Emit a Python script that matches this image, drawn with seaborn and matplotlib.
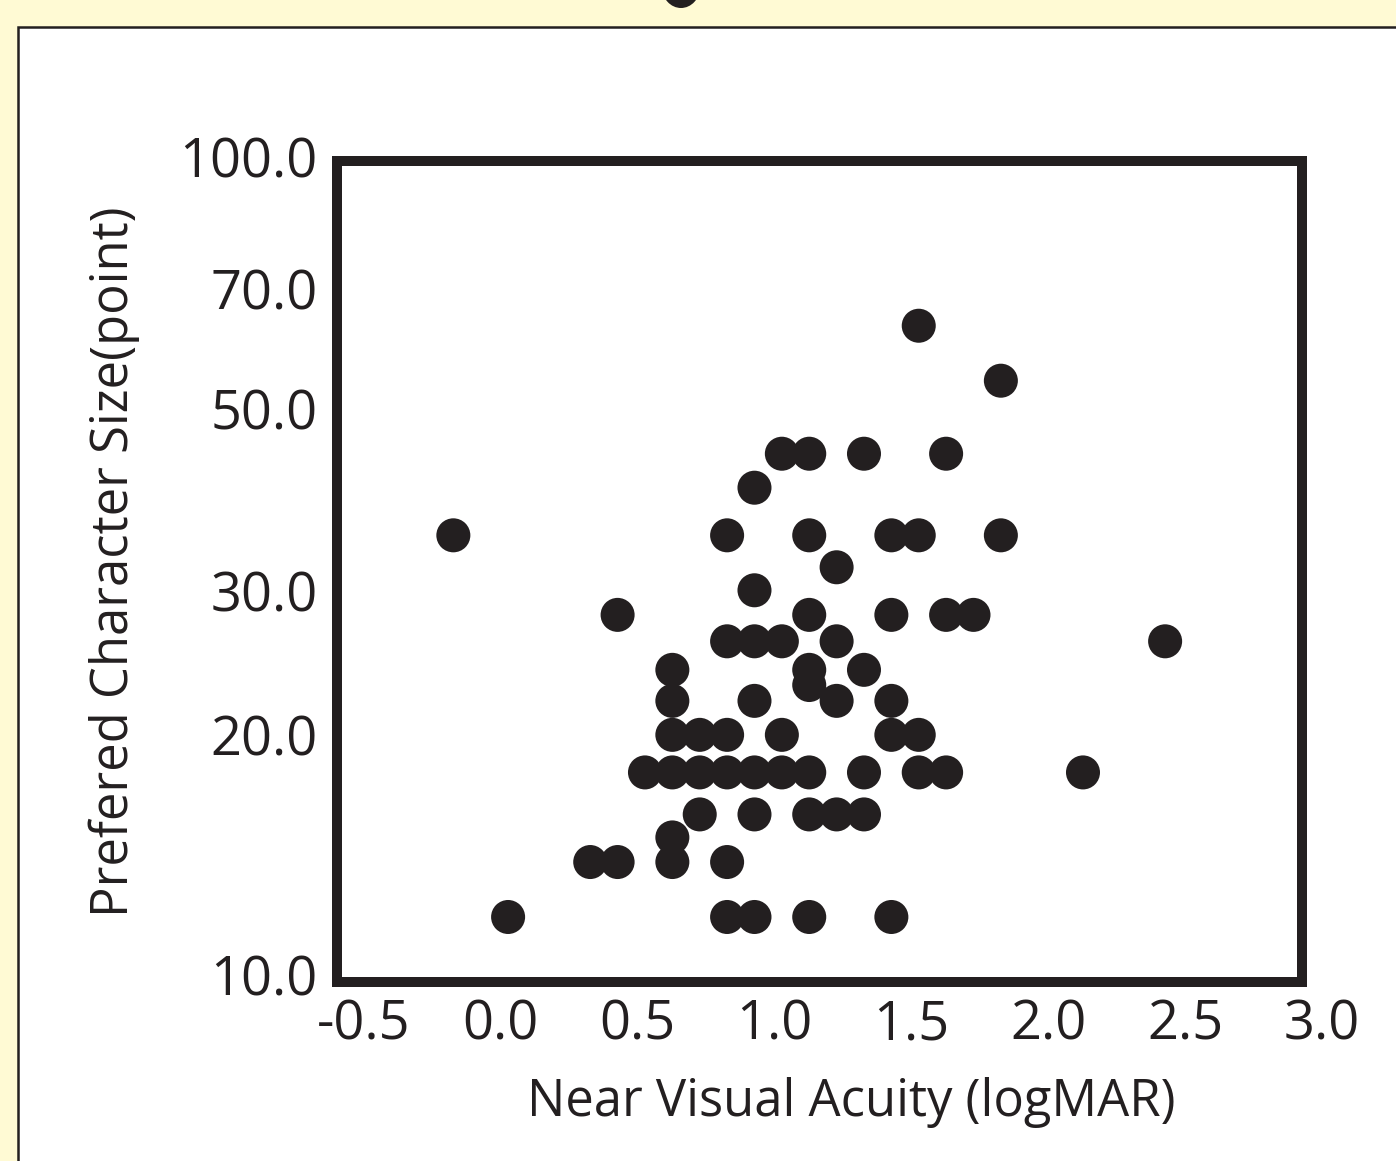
import pandas as pd
import numpy as np
import seaborn as sns
import matplotlib.pyplot as plt
from matplotlib.patches import Rectangle, Ellipse
from matplotlib.ticker import NullFormatter
from matplotlib.transforms import ScaledTranslation

# near visual acuity (logMAR) and preferred character size (point)
acuity = [0.1, 0.9, 1.0, 1.2, 1.5,
          0.4, 0.5, 0.7, 0.9,
          0.7,
          0.8, 1.0, 1.2, 1.3, 1.4,
          0.6, 0.7, 0.8, 0.9, 1.0, 1.1, 1.2, 1.4, 1.6, 1.7, 2.2,
          0.7, 0.8, 0.9, 1.1, 1.5, 1.6,
          0.7, 1.0, 1.3, 1.5,
          1.2,
          0.7, 1.2, 1.4,
          0.9, 1.0, 1.1, 1.3, 2.5,
          0.5, 1.2, 1.5, 1.7, 1.8,
          1.0,
          1.3,
          -0.1, 0.9, 1.2, 1.5, 1.6, 1.9,
          1.0,
          1.1, 1.2, 1.4, 1.7,
          1.9,
          1.6]
char_size = [12, 12, 12, 12, 12,
             14, 14, 14, 14,
             15,
             16, 16, 16, 16, 16,
             18, 18, 18, 18, 18, 18, 18, 18, 18, 18, 18,
             20, 20, 20, 20, 20, 20,
             22, 22, 22, 22,
             23,
             24, 24, 24,
             26, 26, 26, 26, 26,
             28, 28, 28, 28, 28,
             30,
             32,
             35, 35, 35, 35, 35, 35,
             40,
             44, 44, 44, 44,
             54,
             63]

x_ticks = [-0.5, 0.0, 0.5, 1.0, 1.5, 2.0, 2.5, 3.0]
y_ticks = [10, 20, 30, 50, 70, 100]
y_minor = [40, 60, 80, 90]

df = pd.DataFrame({"acuity": acuity, "size": char_size})

sns.set_style("white")
plt.rcParams['font.family'] = ['Open Sans', 'DejaVu Sans']
ink = '#231F20'

fig = plt.figure(figsize=(13.96, 11.61), dpi=100)
fig.patch.set_facecolor('#FFFAD4')

# white panel with thin border, running off the right and bottom edges
fig.add_artist(Rectangle((18/1396, -0.1), 1.2, 1.1 - 27/1161, transform=fig.transFigure,
                         facecolor='white', edgecolor=ink, lw=1.8, zorder=0))
# bottom of a clipped title glyph at the very top
fig.add_artist(Ellipse((681/1396, 1 + 13/1161), 38/1396, 42/1161, transform=fig.transFigure,
                       facecolor=ink, edgecolor='none'))

ax = fig.add_axes([337/1396, 1 - 982/1161, 965/1396, 821/1161])
ax.set_facecolor('white')
sns.scatterplot(data=df, x="acuity", y="size", ax=ax, s=600, color=ink,
                edgecolor='none', linewidth=0, zorder=3, clip_on=False)

ax.set_yscale('log')
ax.set_ylim(10, 100)
ax.set_xlim(-0.525, 2.995)

ax.set_xticks(x_ticks)
ax.set_xticklabels([f"{v:.1f}" for v in x_ticks])
ax.set_yticks(y_ticks)
ax.set_yticklabels([f"{v:.1f}" for v in y_ticks])
ax.set_yticks(y_minor, minor=True)
ax.yaxis.set_minor_formatter(NullFormatter())
ax.xaxis.set_minor_locator(plt.NullLocator())

ax.tick_params(axis='both', which='both', direction='in', length=7, width=1.3,
               color=ink, labelcolor=ink, labelsize=39)
ax.tick_params(axis='x', pad=11)
ax.tick_params(axis='y', pad=14)

for side in ['top', 'bottom', 'left', 'right']:
    ax.spines[side].set_linewidth(7.2)
    ax.spines[side].set_color(ink)
    ax.spines[side].set_visible(True)

ax.set_xlabel("Near Visual Acuity (logMAR)", fontsize=36.5, color=ink, labelpad=18,
              x=0.5 + 32/965)
ax.set_ylabel("Prefered Character Size(point)", fontsize=36.5, color=ink, labelpad=28,
              y=0.5 + 10/821)

# x tick labels in the original sit a little right of their ticks
shift = ScaledTranslation(20/100, 0, fig.dpi_scale_trans)
for lab in ax.get_xticklabels():
    lab.set_transform(lab.get_transform() + shift)

# the end labels on the y axis sit a little inside the frame
ylabs = ax.get_yticklabels()
ylabs[0].set_transform(ylabs[0].get_transform() + ScaledTranslation(0, 7/100, fig.dpi_scale_trans))
ylabs[-1].set_transform(ylabs[-1].get_transform() + ScaledTranslation(0, 5/100, fig.dpi_scale_trans))

fig.savefig("out.png", dpi=100, facecolor=fig.get_facecolor())
